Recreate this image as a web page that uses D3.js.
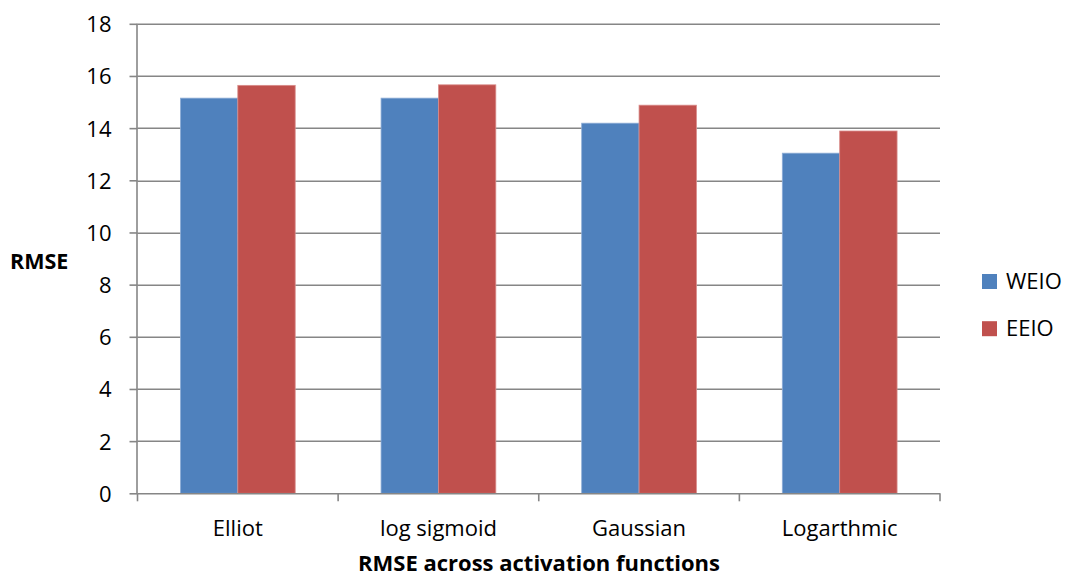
<!DOCTYPE html>
<html>
<head>
<meta charset="utf-8">
<script src="https://cdn.jsdelivr.net/npm/d3@7"></script>
<style>
  html, body { margin: 0; padding: 0; background: #ffffff; }
  svg text { font-family: "Open Sans", Lato, "Liberation Sans", sans-serif; fill: #000; }
</style>
</head>
<body>
<svg id="chart" width="1066" height="581"></svg>
<script>
// Activation functions compared
const categories = ["Elliot", "log sigmoid", "Gaussian", "Logarthmic"];
// RMSE per activation function for each method
const weioValues = [15.15, 15.15, 14.19, 13.04];
const eeioValues = [15.64, 15.66, 14.88, 13.89];
const seriesNames = ["WEIO", "EEIO"];
const yTicks = [0, 2, 4, 6, 8, 10, 12, 14, 16, 18];

const colors = { WEIO: "#4F81BD", EEIO: "#C0504D" };
const edges = { WEIO: "#8EADD6", EEIO: "#D98C8A" };
const gridColor = "#868686";
const FONT = 22;

const svg = d3.select("#chart");
const margin = { left: 137.5, right: 126, top: 23.8, bottom: 87.7 };
const W = 1066, H = 581;
const plotW = W - margin.left - margin.right;
const plotH = H - margin.top - margin.bottom;

const g = svg.append("g").attr("transform", `translate(${margin.left},${margin.top})`);

const x = d3.scaleBand().domain(categories).range([0, plotW]).paddingInner(0).paddingOuter(0);
const y = d3.scaleLinear().domain([0, 18]).range([plotH, 0]);
const groupFrac = 0.572;
const x1 = d3.scaleBand().domain(seriesNames)
  .range([x.bandwidth() * (1 - groupFrac) / 2, x.bandwidth() * (1 + groupFrac) / 2]);

// Horizontal gridlines
g.append("g").selectAll("line").data(yTicks.filter(d => d > 0)).join("line")
  .attr("x1", 0).attr("x2", plotW)
  .attr("y1", d => Math.round(y(d)) + 0.5).attr("y2", d => Math.round(y(d)) + 0.5)
  .attr("stroke", gridColor).attr("stroke-width", 1.6);

// Bars
const rows = categories.map((c, i) => ({ cat: c, WEIO: weioValues[i], EEIO: eeioValues[i] }));
const groups = g.append("g").selectAll("g").data(rows).join("g")
  .attr("transform", d => `translate(${x(d.cat)},0)`);
groups.selectAll("rect").data(d => seriesNames.map(s => ({ s, v: d[s] }))).join("rect")
  .attr("x", d => x1(d.s))
  .attr("width", x1.bandwidth())
  .attr("y", d => y(d.v))
  .attr("height", d => y(0) - y(d.v))
  .attr("fill", d => colors[d.s])
  .attr("stroke", d => edges[d.s])
  .attr("stroke-width", 0.8);

// Y axis
const yAxis = g.append("g")
  .call(d3.axisLeft(y).tickValues(yTicks).tickSize(8).tickPadding(18).tickFormat(d3.format("d")));
yAxis.select(".domain").attr("stroke", gridColor).attr("stroke-width", 1.6).attr("d", `M-0.5,${plotH}V0`);
yAxis.selectAll(".tick line").attr("stroke", gridColor).attr("stroke-width", 1.6);
yAxis.selectAll(".tick text").attr("font-size", FONT).attr("dy", "0.36em");

// X axis
const xAxis = g.append("g").attr("transform", `translate(0,${plotH})`)
  .call(d3.axisBottom(x).tickSize(0).tickPadding(27));
xAxis.select(".domain").attr("stroke", gridColor).attr("stroke-width", 1.6).attr("d", `M0,0.5H${plotW}`);
xAxis.selectAll(".tick text").attr("font-size", FONT);
// Category boundary ticks
const bounds = d3.range(categories.length + 1).map(i => i * x.step());
xAxis.append("g").selectAll("line").data(bounds).join("line")
  .attr("x1", d => d).attr("x2", d => d).attr("y1", 0).attr("y2", 8)
  .attr("stroke", gridColor).attr("stroke-width", 1.6);

// Axis titles
svg.append("text").attr("x", 10).attr("y", 269)
  .attr("font-size", FONT - 0.5).attr("font-weight", "bold").text("RMSE");
svg.append("text").attr("x", 539).attr("y", 571).attr("text-anchor", "middle")
  .attr("font-size", FONT).attr("font-weight", "bold")
  .text("RMSE across activation functions");

// Legend
const legend = svg.append("g").attr("transform", "translate(982,274)");
const items = legend.selectAll("g").data(seriesNames).join("g")
  .attr("transform", (d, i) => `translate(0,${i * 47.2})`);
items.append("rect").attr("width", 15).attr("height", 15).attr("fill", d => colors[d]);
items.append("text").attr("x", 24).attr("y", 15)
  .attr("font-size", FONT).text(d => d);
</script>
</body>
</html>
